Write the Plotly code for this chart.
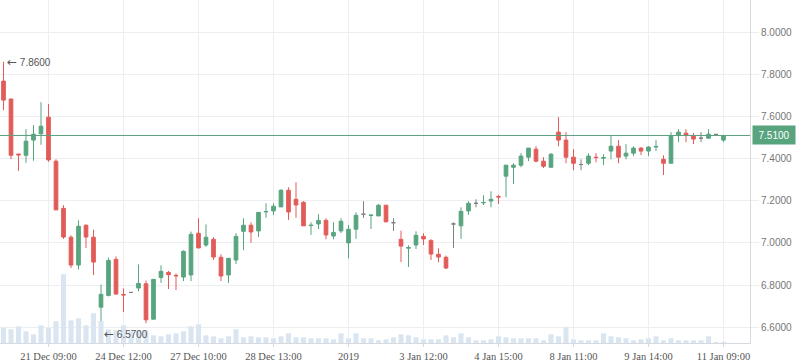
import plotly.graph_objects as go

# ---- data ----
open_ = [7.768, 7.683, 7.422, 7.416, 7.488, 7.518, 7.597, 7.388, 7.164, 7.027,
         6.895, 7.084, 7.027, 6.695, 6.751, 6.922, 6.755, 6.765, 6.786, 6.806,
         6.638, 6.836, 6.860, 6.846, 6.838, 6.848, 7.046, 6.990, 7.017, 6.932,
         6.848, 6.919, 7.055, 7.084, 7.057, 7.147, 7.152, 7.171, 7.250, 7.207,
         7.193, 7.082, 7.090, 7.107, 7.033, 7.057, 7.000, 7.065, 7.136, 7.130,
         7.128, 7.179, 7.096, 7.017, 6.975, 6.990, 7.031, 7.012, 6.946, 6.932,
         7.090, 7.081, 7.152, 7.188, 7.190, 7.199, 7.220, 7.317, 7.359, 7.369,
         7.407, 7.445, 7.388, 7.359, 7.526, 7.488, 7.407, 7.372, 7.378, 7.407,
         7.402, 7.436, 7.459, 7.412, 7.426, 7.450, 7.436, 7.455, 7.397, 7.378,
         7.512, 7.521, 7.510, 7.497, 7.497, 7.515, 7.488]
high_ = [7.860, 7.685, 7.423, 7.540, 7.559, 7.668, 7.659, 7.397, 7.179, 7.036,
         7.107, 7.088, 7.063, 6.802, 6.930, 6.936, 6.784, 6.767, 6.898, 6.822,
         6.827, 6.894, 6.867, 6.855, 6.965, 7.054, 7.117, 7.088, 7.027, 6.946,
         6.927, 7.046, 7.117, 7.098, 7.145, 7.188, 7.188, 7.255, 7.264, 7.288,
         7.198, 7.098, 7.136, 7.117, 7.098, 7.117, 7.085, 7.145, 7.198, 7.136,
         7.184, 7.179, 7.117, 7.058, 6.989, 7.055, 7.046, 7.017, 6.974, 6.940,
         7.098, 7.169, 7.198, 7.207, 7.226, 7.245, 7.228, 7.369, 7.378, 7.426,
         7.450, 7.459, 7.407, 7.426, 7.597, 7.526, 7.445, 7.397, 7.426, 7.426,
         7.421, 7.510, 7.488, 7.469, 7.459, 7.455, 7.459, 7.488, 7.416, 7.526,
         7.540, 7.540, 7.521, 7.526, 7.540, 7.517, 7.510]
low_ = [7.630, 7.397, 7.342, 7.380, 7.390, 7.466, 7.385, 7.155, 7.019, 6.881,
        6.874, 6.976, 6.848, 6.570, 6.746, 6.757, 6.672, 6.763, 6.771, 6.619,
        6.638, 6.810, 6.781, 6.776, 6.819, 6.819, 6.976, 6.981, 6.919, 6.819,
        6.810, 6.900, 6.966, 7.000, 7.028, 7.119, 7.133, 7.171, 7.109, 7.119,
        7.081, 7.038, 7.066, 7.017, 7.017, 7.047, 6.927, 7.019, 7.119, 7.066,
        7.128, 7.100, 7.057, 6.909, 6.886, 6.971, 6.990, 6.919, 6.908, 6.876,
        6.976, 7.019, 7.133, 7.169, 7.180, 7.169, 7.185, 7.217, 7.279, 7.359,
        7.388, 7.383, 7.355, 7.359, 7.459, 7.378, 7.345, 7.345, 7.369, 7.383,
        7.369, 7.397, 7.378, 7.397, 7.412, 7.417, 7.412, 7.436, 7.322, 7.378,
        7.478, 7.478, 7.469, 7.478, 7.497, 7.513, 7.478]
close_ = [7.678, 7.416, 7.418, 7.483, 7.516, 7.554, 7.394, 7.157, 7.028, 6.895,
          7.079, 7.028, 6.909, 6.756, 6.917, 6.757, 6.753, 6.765, 6.808, 6.635,
          6.827, 6.865, 6.849, 6.844, 6.960, 7.041, 6.976, 7.027, 6.933, 6.843,
          6.927, 7.031, 7.084, 7.052, 7.145, 7.149, 7.174, 7.250, 7.147, 7.180,
          7.081, 7.084, 7.107, 7.038, 7.050, 7.103, 7.065, 7.131, 7.136, 7.132,
          7.179, 7.100, 7.096, 6.985, 6.978, 7.036, 7.019, 6.947, 6.933, 6.881,
          7.090, 7.150, 7.188, 7.188, 7.192, 7.207, 7.218, 7.369, 7.369, 7.412,
          7.450, 7.388, 7.364, 7.421, 7.488, 7.407, 7.378, 7.372, 7.412, 7.405,
          7.405, 7.459, 7.407, 7.426, 7.450, 7.436, 7.455, 7.458, 7.378, 7.507,
          7.526, 7.512, 7.493, 7.497, 7.516, 7.515, 7.510]
volume = [46, 41, 50, 35, 26, 53, 45, 65, 206, 68,
          74, 53, 89, 66, 41, 38, 53, 35, 38, 38,
          23, 20, 26, 29, 35, 50, 56, 23, 20, 14,
          20, 41, 17, 20, 17, 17, 14, 20, 29, 17,
          17, 14, 14, 14, 11, 29, 14, 29, 14, 14,
          8, 11, 17, 26, 23, 17, 11, 11, 11, 23,
          17, 29, 17, 8, 8, 11, 20, 17, 14, 14,
          14, 14, 8, 26, 20, 47, 11, 8, 8, 8,
          29, 20, 17, 14, 8, 11, 14, 20, 8, 14,
          8, 8, 8, 8, 20, 2, 2]
tick_index = [6, 16, 26, 36, 46, 56, 66, 76, 86, 96]
tick_labels = ["21 Dec 09:00", "24 Dec 12:00", "27 Dec 10:00", "28 Dec 13:00", "2019",
               "3 Jan 12:00", "4 Jan 15:00", "8 Jan 11:00", "9 Jan 14:00", "11 Jan 09:00"]
last_price = 7.51
max_price = 7.86
min_price = 6.57

UP = "#58a47f"
DOWN = "#e15c58"
FLAT = "#808080"
GRID = "#eceef1"

x = list(range(len(open_)))

def subset(cond):
    idx = [i for i in x if cond(i)]
    return dict(x=idx, open=[open_[i] for i in idx], high=[high_[i] for i in idx],
                low=[low_[i] for i in idx], close=[close_[i] for i in idx])

fig = go.Figure()
fig.add_trace(go.Bar(x=x, y=volume, yaxis="y2", marker=dict(color="#d9e5f1", line=dict(width=0)),
                     width=0.68, hoverinfo="skip", showlegend=False))

for cond, col in [(lambda i: close_[i] > open_[i], UP),
                  (lambda i: close_[i] < open_[i], DOWN),
                  (lambda i: close_[i] == open_[i], FLAT)]:
    d = subset(cond)
    fig.add_trace(go.Candlestick(
        **d,
        increasing=dict(line=dict(color=col, width=1), fillcolor=col),
        decreasing=dict(line=dict(color=col, width=1), fillcolor=col),
        whiskerwidth=0, hoverinfo="skip", showlegend=False))

fig.add_shape(type="line", xref="x", yref="paper", x0=46, x1=46, y0=0, y1=1,
              line=dict(color="#d8dbe0", width=1), layer="below")
fig.add_shape(type="line", xref="paper", yref="y", x0=0, x1=1, y0=last_price, y1=last_price,
              line=dict(color="#5d9f80", width=1), layer="above")

fig.add_annotation(x=1, xref="paper", y=last_price, yref="y", xanchor="left", yanchor="middle",
                   text=f"{last_price:.4f}", showarrow=False, xshift=2,
                   bgcolor=UP, width=40, height=16, align="center",
                   font=dict(family="Liberation Sans", size=10, color="white"))
arrow = '<span style="font-family:DejaVu Sans;font-size:12px">\u2190</span>'
fig.add_annotation(x=0, y=max_price, xanchor="left", yanchor="middle", xshift=1,
                   text=f"{arrow} {max_price:.4f}", showarrow=False,
                   font=dict(family="Liberation Sans", size=10, color="#555555"))
fig.add_annotation(x=13, y=min_price, xanchor="left", yanchor="middle", xshift=1,
                   text=f"{arrow} {min_price:.4f}", showarrow=False,
                   font=dict(family="Liberation Sans", size=10, color="#555555"))

fig.update_layout(
    width=798, height=363,
    margin=dict(l=0, r=48, t=0, b=20),
    paper_bgcolor="white", plot_bgcolor="white",
    showlegend=False, hovermode=False,
    xaxis=dict(range=[-0.467, 99.533], tickmode="array", tickvals=tick_index, ticktext=tick_labels,
               showgrid=True, gridcolor=GRID, gridwidth=1, zeroline=False,
               showline=True, linecolor="#d6d9de", linewidth=1,
               ticks="outside", ticklen=3, tickcolor="#d6d9de",
               tickfont=dict(family="Liberation Serif", size=10.5, color="#555555"),
               rangeslider=dict(visible=False), fixedrange=True),
    yaxis=dict(range=[6.525, 8.153], side="right", tickmode="array",
               tickvals=[6.6, 6.8, 7.0, 7.2, 7.4, 7.6, 7.8, 8.0], tickformat=".4f",
               showgrid=True, gridcolor=GRID, gridwidth=1, zeroline=False,
               showline=True, linecolor="#d6d9de", linewidth=1,
               ticks="outside", ticklen=8, tickcolor=GRID,
               tickfont=dict(family="Liberation Sans", size=10, color="#777777"), fixedrange=True),
    yaxis2=dict(range=[0, 1028], overlaying="y", visible=False, fixedrange=True),
)

fig.write_html("out.html", config={"displayModeBar": False},
               post_script="document.body.style.margin='0';document.body.style.overflow='hidden';")
